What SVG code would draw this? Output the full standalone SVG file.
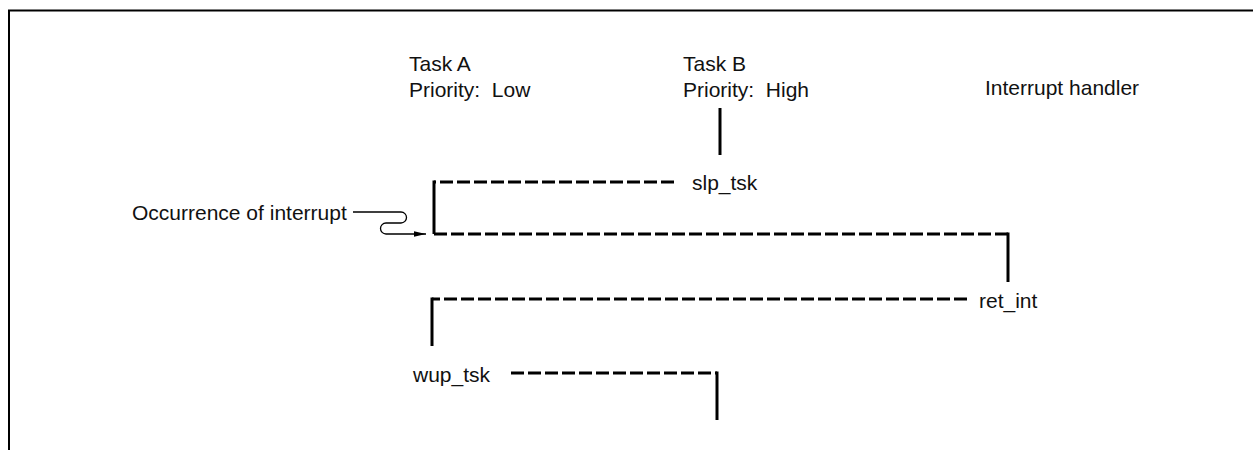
<svg xmlns="http://www.w3.org/2000/svg" width="1253" height="450" viewBox="0 0 1253 450">
  <style>
    .lbl { font-family: "Liberation Sans", Arial, Helvetica, sans-serif; font-size: 21px; fill: #111; }
    .solid { fill: none; stroke: #000; stroke-width: 3; }
    .dash { fill: none; stroke: #000; stroke-width: 3; stroke-dasharray: 13 4; }
    .thin { fill: none; stroke: #000; stroke-width: 1.3; }
  </style>
  <defs>
    <marker id="arrow" markerWidth="12" markerHeight="8" refX="12" refY="4" orient="auto" markerUnits="userSpaceOnUse">
      <path d="M0,1.2 L12,4 L0,6.8 Z" fill="#000"/>
    </marker>
  </defs>

  <!-- outer frame -->
  <path d="M9,455 V10.5 H1258" fill="none" stroke="#000" stroke-width="2"/>

  <!-- column headings -->
  <g id="task-a">
    <text class="lbl" x="409" y="71">Task A</text>
    <text class="lbl" x="409" y="97" xml:space="preserve">Priority:  Low</text>
  </g>
  <g id="task-b">
    <text class="lbl" x="683" y="71">Task B</text>
    <text class="lbl" x="683" y="97" xml:space="preserve">Priority:  High</text>
  </g>
  <g id="interrupt-handler">
    <text class="lbl" x="985" y="95">Interrupt handler</text>
  </g>

  <!-- event labels -->
  <g id="occurrence">
    <text class="lbl" x="132" y="220">Occurrence of interrupt</text>
  </g>
  <g id="slp-tsk">
    <text class="lbl" x="692" y="190">slp_tsk</text>
  </g>
  <g id="ret-int">
    <text class="lbl" x="979" y="308">ret_int</text>
  </g>
  <g id="wup-tsk">
    <text class="lbl" x="413" y="382">wup_tsk</text>
  </g>

  <!-- execution flow -->
  <g id="connectors">
    <!-- Task B runs until slp_tsk -->
    <line class="solid" x1="720" y1="108" x2="720" y2="155"/>
    <line class="dash" x1="674" y1="182" x2="434" y2="182"/>
    <!-- Task A runs until the interrupt -->
    <line class="solid" x1="434" y1="180.5" x2="434" y2="234"/>
    <!-- interrupt signal -->
    <path class="thin" d="M353,212 H401 A5.5,5.5 0 0 1 401,223 H386 A5.5,5.5 0 0 0 386,234 H426" marker-end="url(#arrow)"/>
    <!-- dispatch to handler -->
    <line class="dash" x1="434" y1="234" x2="1008" y2="234"/>
    <line class="solid" x1="1008" y1="232.5" x2="1008" y2="282"/>
    <!-- return from interrupt -->
    <line class="dash" x1="967" y1="299" x2="432" y2="299"/>
    <line class="solid" x1="432" y1="297.5" x2="432" y2="346"/>
    <!-- wake up Task B -->
    <line class="dash" x1="511" y1="373" x2="717" y2="373"/>
    <line class="solid" x1="717" y1="371.5" x2="717" y2="420"/>
  </g>
</svg>
